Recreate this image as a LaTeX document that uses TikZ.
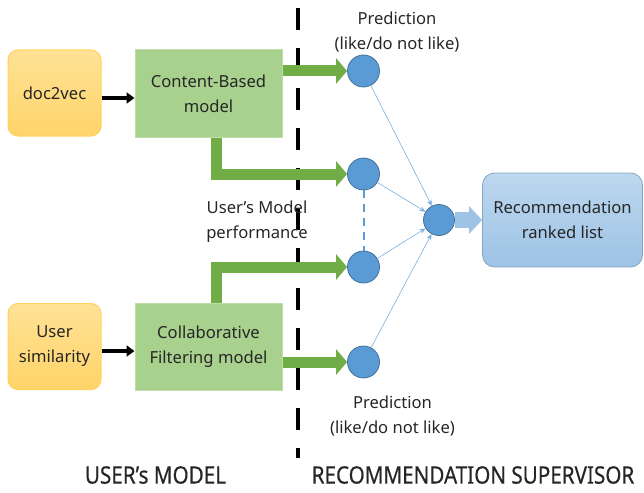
\documentclass[tikz,border=0pt]{standalone}
\usepackage{fontspec}
\setmainfont{Noto Sans}
\newfontfamily\condfont[FakeStretch=0.86,FakeBold=0.4]{Noto Sans}
\usetikzlibrary{arrows.meta,positioning}
\definecolor{orangetop}{RGB}{255,226,150}
\definecolor{orangebot}{RGB}{255,212,105}
\definecolor{orangeline}{RGB}{255,210,90}
\definecolor{greenbox}{RGB}{169,209,142}
\definecolor{greenline}{RGB}{190,222,168}
\definecolor{greenarr}{RGB}{112,173,71}
\definecolor{bluenode}{RGB}{91,155,213}
\definecolor{blueline}{RGB}{65,113,156}
\definecolor{bluetop}{RGB}{189,215,238}
\definecolor{bluebot}{RGB}{157,195,230}
\definecolor{bluewide}{RGB}{157,195,230}
\definecolor{textgray}{RGB}{38,38,38}
\tikzset{
  srcbox/.style={draw=orangeline, line width=1pt, rounded corners=10pt, top color=orangetop, bottom color=orangebot,
    minimum width=93pt, minimum height=86pt, align=center},
  modelbox/.style={draw=greenline, line width=1pt, fill=greenbox, minimum width=147pt, minimum height=87pt, align=center},
  pred/.style={circle, draw=blueline, line width=0.8pt, fill=bluenode, minimum size=32pt, inner sep=0pt},
  greenarrow/.style={draw=greenarr, line width=11pt, miter limit=10, -{Triangle[length=11pt,width=25pt]}},
  blackarrow/.style={draw=black, line width=4pt, -{Triangle[length=8pt,width=11pt]}},
  vote/.style={draw=bluenode!80!white, line width=0.6pt, -{Stealth[length=6pt,width=5pt]}},
  lbl/.style={align=center},
  footlbl/.style={font=\condfont\fontsize{24}{26}\selectfont},
}
\begin{document}
\begin{tikzpicture}[x=1pt, y=-1pt, font=\fontsize{16.6}{25}\selectfont, text=textgray]
\useasboundingbox (0,0) rectangle (644,492);

\node[srcbox] (doc) at (54.5,93) {doc2vec};
\node[srcbox] (usersim) at (54.5,346.5) {User\\similarity};
\node[modelbox] (cbm) at (208.5,93.5) {Content-Based\\model};
\node[modelbox] (cfm) at (208.5,347) {Collaborative\\Filtering model};

\draw[blackarrow] (doc.east |- 0,98) -- (cbm.west |- 0,98);
\draw[blackarrow] (usersim.east |- 0,351) -- (cfm.west |- 0,351);

\draw[line width=4.5pt, dash pattern=on 22pt off 18pt] (298,8) -- (298,458);

\node[pred] (p1) at (363.5,71) {};
\node[pred] (p2) at (363.5,174) {};
\node[pred] (p3) at (363.5,267) {};
\node[pred] (p4) at (363.5,362) {};
\node[pred, minimum size=31pt] (agg) at (439,220) {};

\node[draw=bluebot!85!black, line width=0.8pt, rounded corners=12pt, top color=bluetop, bottom color=bluebot,
  minimum width=160pt, minimum height=94pt, align=center] (rec) at (562.5,220) {Recommendation\\ranked list};

\draw[greenarrow] (cbm.east |- p1) -- (p1.west);
\draw[greenarrow] ([xshift=8pt]cbm.south) |- (p2.west);
\draw[greenarrow] ([xshift=8pt]cfm.north) |- (p3.west);
\draw[greenarrow] (cfm.east |- p4) -- (p4.west);

\draw[bluenode, line width=2pt, dash pattern=on 8pt off 6pt] (p2.south) -- (p3.north);
\foreach \p in {p1,p2,p3,p4}
  \draw[vote] (\p) -- (agg);
\draw[draw=bluewide, line width=16pt, -{Triangle[length=13pt,width=27pt]}] (agg.east) -- (rec.west);

\node[lbl] (predtop) at (397,32) {Prediction\\(like/do not like)};
\node[lbl] (perf) at (257,222) {User’s Model\\performance};
\node[lbl] (predbot) at (392.5,416) {Prediction\\(like/do not like)};
\node[footlbl] (um) at (155.5,475) {USER’s MODEL};
\node[footlbl] (rs) at (473,475) {RECOMMENDATION SUPERVISOR};
\end{tikzpicture}
\end{document}
